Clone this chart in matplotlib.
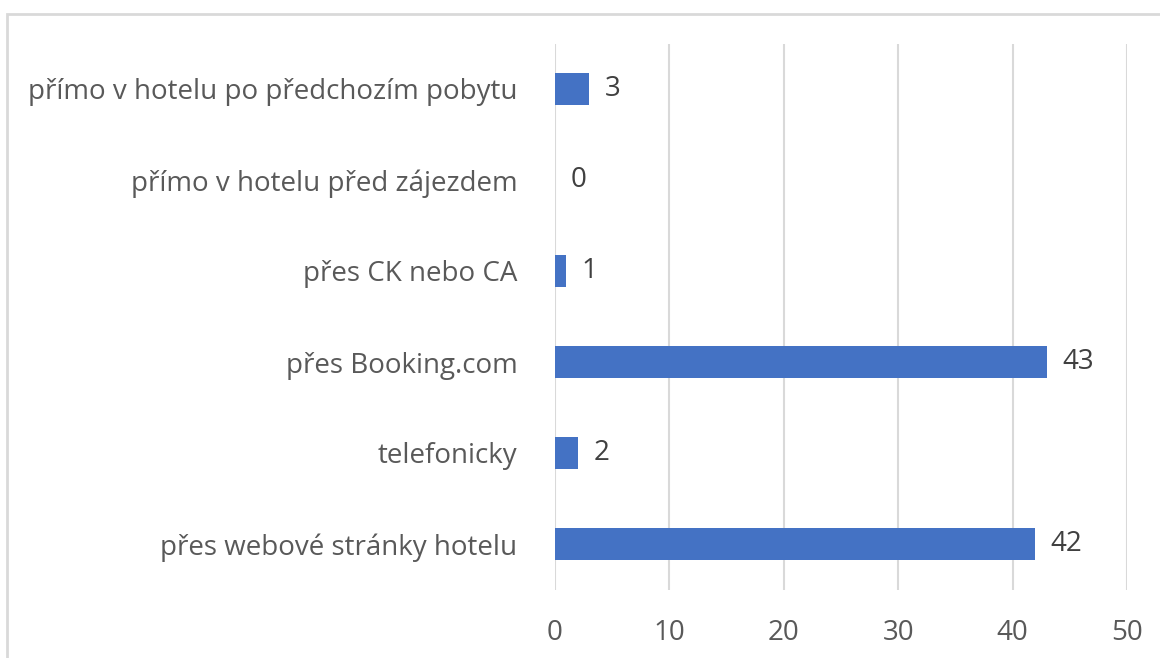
import matplotlib
matplotlib.use("Agg")
import matplotlib.pyplot as plt
from matplotlib.patches import Rectangle

# categories listed bottom to top, as they appear on the chart
categories = ["přes webové stránky hotelu", "telefonicky", "přes Booking.com",
              "přes CK nebo CA", "přímo v hotelu před zájezdem",
              "přímo v hotelu po předchozím pobytu"]
values = [42, 2, 43, 1, 0, 3]
xticks = [0, 10, 20, 30, 40, 50]

plt.rcParams['font.family'] = ['Open Sans', 'DejaVu Sans']
fs = 20

fig = plt.figure(figsize=(11.6, 6.58), dpi=100)
ax = fig.add_axes([555 / 1160, 1 - 589.5 / 658, (1127 - 555) / 1160, (589.5 - 43.5) / 658])

# light frame around the chart (runs off the right and bottom edges)
fig.patches.append(Rectangle((7 / 1160, -0.1), 1.2, 1 - 14 / 658 + 0.1, transform=fig.transFigure,
                             fill=False, edgecolor="#D9D9D9", linewidth=2))

ypos = list(range(len(categories)))
bars = ax.barh(ypos, values, height=0.35, color="#4472C4", zorder=3)
labels = ax.bar_label(bars, labels=[str(v) for v in values], padding=11, fontsize=fs, color="#404040")
for t in labels:
    t.set_va('center')

ax.set_xlim(0, 50)
ax.set_ylim(-0.5, len(categories) - 0.5)
ax.set_xticks(xticks)
ax.set_yticks(ypos)
ax.set_yticklabels(categories)
ax.tick_params(axis='x', length=0, pad=21, labelsize=fs, labelcolor="#595959")
ax.tick_params(axis='y', length=0, pad=27, labelsize=fs, labelcolor="#595959")
ax.grid(axis='x', color="#D9D9D9", linewidth=1.5, zorder=0)
for s in ax.spines.values():
    s.set_visible(False)

fig.savefig("out.png", dpi=100)
